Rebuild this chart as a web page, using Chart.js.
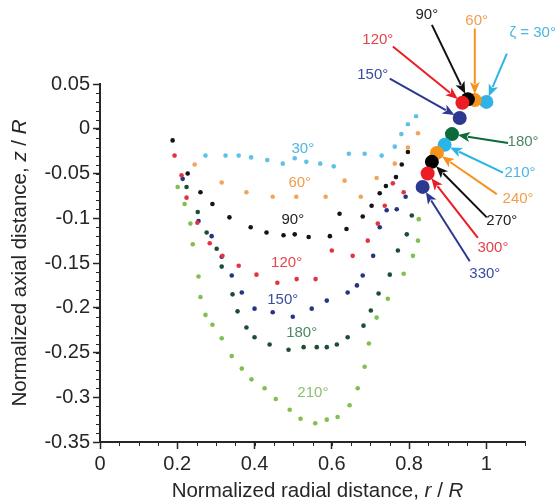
<!DOCTYPE html>
<html>
<head>
<meta charset="utf-8">
<script src="https://cdn.jsdelivr.net/npm/chart.js@4.4.1/dist/chart.umd.min.js"></script>
<style>
  html, body { margin: 0; padding: 0; background: #fff; }
  #wrap { width: 560px; height: 504px; }
</style>
</head>
<body>
<div id="wrap"><canvas id="chart" width="560" height="504"></canvas></div>
<script>
// bubble cross-sections, normalized radial r/R vs axial z/R
const r30 = [0.273, 0.325, 0.359, 0.391, 0.433, 0.473, 0.504, 0.534, 0.570, 0.605, 0.644, 0.685, 0.729, 0.763, 0.780, 0.797, 0.818];
const z30 = [-0.030, -0.030, -0.030, -0.032, -0.035, -0.039, -0.033, -0.037, -0.039, -0.042, -0.028, -0.028, -0.030, -0.020, -0.006, 0.005, 0.014];

const r60 = [0.245, 0.315, 0.379, 0.447, 0.508, 0.584, 0.633, 0.675, 0.716, 0.763, 0.797, 0.823];
const z60 = [-0.040, -0.060, -0.071, -0.076, -0.076, -0.076, -0.058, -0.076, -0.055, -0.039, -0.021, -0.005];

const r90 = [0.188, 0.227, 0.260, 0.291, 0.335, 0.390, 0.431, 0.475, 0.504, 0.540, 0.595, 0.620, 0.638, 0.680, 0.703, 0.724, 0.740, 0.766, 0.781, 0.797];
const z90 = [-0.013, -0.050, -0.071, -0.084, -0.099, -0.110, -0.116, -0.119, -0.118, -0.121, -0.120, -0.095, -0.112, -0.098, -0.086, -0.072, -0.064, -0.054, -0.040, -0.026];

const r120 = [0.193, 0.211, 0.224, 0.252, 0.284, 0.317, 0.359, 0.405, 0.459, 0.509, 0.558, 0.600, 0.654, 0.693, 0.719, 0.737, 0.758, 0.786];
const z120 = [-0.030, -0.052, -0.077, -0.105, -0.128, -0.142, -0.153, -0.163, -0.172, -0.168, -0.168, -0.136, -0.142, -0.125, -0.106, -0.086, -0.061, -0.071];

const r150 = [0.214, 0.255, 0.289, 0.315, 0.341, 0.367, 0.400, 0.447, 0.499, 0.548, 0.587, 0.641, 0.665, 0.680, 0.707, 0.724, 0.742, 0.768, 0.791];
const z150 = [-0.056, -0.103, -0.120, -0.143, -0.164, -0.183, -0.201, -0.205, -0.210, -0.201, -0.192, -0.183, -0.175, -0.164, -0.142, -0.110, -0.091, -0.090, -0.076];

const r180 = [0.224, 0.253, 0.276, 0.302, 0.315, 0.343, 0.356, 0.379, 0.400, 0.439, 0.488, 0.527, 0.561, 0.587, 0.613, 0.641, 0.682, 0.701, 0.721, 0.750, 0.771, 0.794, 0.807];
const z180 = [-0.065, -0.093, -0.116, -0.134, -0.154, -0.185, -0.204, -0.222, -0.233, -0.241, -0.247, -0.244, -0.244, -0.244, -0.241, -0.233, -0.220, -0.203, -0.184, -0.163, -0.136, -0.118, -0.097];

const r210 = [0.201, 0.219, 0.234, 0.240, 0.255, 0.260, 0.273, 0.291, 0.315, 0.341, 0.367, 0.392, 0.426, 0.455, 0.491, 0.519, 0.557, 0.587, 0.615, 0.646, 0.667, 0.685, 0.696, 0.716, 0.745, 0.786, 0.810, 0.823, 0.825];
const z210 = [-0.065, -0.084, -0.106, -0.129, -0.165, -0.188, -0.208, -0.219, -0.234, -0.254, -0.268, -0.280, -0.290, -0.302, -0.314, -0.324, -0.329, -0.325, -0.322, -0.309, -0.290, -0.266, -0.240, -0.211, -0.190, -0.162, -0.142, -0.125, -0.101];

// big markers: contact point for each angle zeta
const markAngles = [30, 60, 90, 120, 150, 180, 210, 240, 270, 300, 330];
const markR = [1.000, 0.970, 0.952, 0.938, 0.931, 0.911, 0.892, 0.872, 0.859, 0.848, 0.835];
const markZ = [0.030, 0.032, 0.033, 0.029, 0.012, -0.006, -0.018, -0.027, -0.037, -0.050, -0.065];

const xTicks = [0, 0.2, 0.4, 0.6, 0.8, 1];
const yTicks = [0.05, 0, -0.05, -0.1, -0.15, -0.2, -0.25, -0.3, -0.35];

const ink = "#262626";
const fontFamily = '"Liberation Sans", Arial, Helvetica, sans-serif';

const dotColors = {30: "#5ec2e8", 60: "#f3a45c", 90: "#141414", 120: "#e2343d", 150: "#283384", 180: "#1c4e33", 210: "#80bf50"};
const labelColors = {30: "#4cb6e3", 60: "#f19d4c", 90: "#222222", 120: "#e6434b", 150: "#3c4da2", 180: "#4d8862", 210: "#88c16b",
  240: "#f19d4c", 270: "#222222", 300: "#e6434b", 330: "#3c4da2"};
const markColors = {30: "#2fb3e6", 60: "#f6921e", 90: "#000000", 120: "#ec1c24", 150: "#2b3990", 180: "#0b6b3a",
  210: "#29b5e8", 240: "#f6921e", 270: "#000000", 300: "#ec1c24", 330: "#2b3990"};

// in-plot series labels (data units)
const seriesLabels = [
  {a: 30, r: 0.525, z: -0.022},
  {a: 60, r: 0.517, z: -0.060},
  {a: 90, r: 0.499, z: -0.102},
  {a: 120, r: 0.483, z: -0.150},
  {a: 150, r: 0.473, z: -0.191},
  {a: 180, r: 0.522, z: -0.228},
  {a: 210, r: 0.551, z: -0.295}
];

// arrow callouts: label position and arrow tail (data units)
const callouts = [
  {a: 30, text: "\u03b6 = 30\u00b0", lr: 1.120, lz: 0.107, tr: 1.053, tz: 0.084},
  {a: 60, text: "60\u00b0", lr: 0.975, lz: 0.121, tr: 0.970, tz: 0.112},
  {a: 90, text: "90\u00b0", lr: 0.846, lz: 0.127, tr: 0.859, tz: 0.116},
  {a: 120, text: "120\u00b0", lr: 0.719, lz: 0.099, tr: 0.758, tz: 0.092},
  {a: 150, text: "150\u00b0", lr: 0.706, lz: 0.060, tr: 0.750, tz: 0.056},
  {a: 180, text: "180\u00b0", lr: 1.095, lz: -0.015, tr: 1.056, tz: -0.016},
  {a: 210, text: "210\u00b0", lr: 1.087, lz: -0.049, tr: 1.043, tz: -0.049},
  {a: 240, text: "240\u00b0", lr: 1.082, lz: -0.078, tr: 1.027, tz: -0.073},
  {a: 270, text: "270\u00b0", lr: 1.040, lz: -0.103, tr: 1.001, tz: -0.099},
  {a: 300, text: "300\u00b0", lr: 1.017, lz: -0.133, tr: 0.978, tz: -0.122},
  {a: 330, text: "330\u00b0", lr: 0.996, lz: -0.162, tr: 0.957, tz: -0.148}
];

const seriesData = {30: [r30, z30], 60: [r60, z60], 90: [r90, z90], 120: [r120, z120], 150: [r150, z150], 180: [r180, z180], 210: [r210, z210]};
const MARK_RADIUS = 7;

function zip(rs, zs) {
  return rs.map((r, i) => ({x: r, y: zs[i]}));
}

const datasets = Object.keys(seriesData).map(a => ({
  label: a + "\u00b0",
  data: zip(seriesData[a][0], seriesData[a][1]),
  backgroundColor: dotColors[a],
  borderWidth: 0,
  pointRadius: 2.3,
  showLine: false
}));

datasets.push({
  label: "contact",
  data: zip(markR, markZ),
  backgroundColor: markAngles.map(a => markColors[a]),
  borderWidth: 0,
  pointRadius: MARK_RADIUS,
  showLine: false,
  clip: false
});

function drawRich(ctx, parts, size) {
  let total = 0;
  parts.forEach(p => {
    ctx.font = (p.it ? "italic " : "") + size + "px " + fontFamily;
    p.w = ctx.measureText(p.t).width;
    total += p.w;
  });
  let x = -total / 2;
  parts.forEach(p => {
    ctx.font = (p.it ? "italic " : "") + size + "px " + fontFamily;
    ctx.fillText(p.t, x, 0);
    x += p.w;
  });
}

const decorations = {
  id: "decorations",
  afterDraw(chart) {
    const {ctx, chartArea: area, scales: {x, y}} = chart;
    ctx.save();

    // minor ticks
    ctx.strokeStyle = ink;
    ctx.lineWidth = 1;
    ctx.beginPath();
    for (let i = 0; i <= 22; i++) {
      const px = Math.round(x.getPixelForValue(i * 0.05)) + 0.5;
      ctx.moveTo(px, area.bottom);
      ctx.lineTo(px, area.bottom + 4);
    }
    for (let i = 0; i <= 40; i++) {
      const py = Math.round(y.getPixelForValue(-0.35 + i * 0.01)) + 0.5;
      ctx.moveTo(area.left, py);
      ctx.lineTo(area.left - 4, py);
    }
    ctx.stroke();

    // series labels
    ctx.textBaseline = "middle";
    ctx.textAlign = "center";
    ctx.font = "15px " + fontFamily;
    seriesLabels.forEach(s => {
      ctx.fillStyle = labelColors[s.a];
      ctx.fillText(s.a + "\u00b0", x.getPixelForValue(s.r), y.getPixelForValue(s.z));
    });

    // arrows + callout text
    callouts.forEach(c => {
      const i = markAngles.indexOf(c.a);
      const color = markColors[c.a] === "#000000" ? "#111111" : markColors[c.a];
      const x0 = x.getPixelForValue(c.tr), y0 = y.getPixelForValue(c.tz);
      const cx = x.getPixelForValue(markR[i]), cy = y.getPixelForValue(markZ[i]);
      const dx = cx - x0, dy = cy - y0;
      const len = Math.hypot(dx, dy);
      const ux = dx / len, uy = dy / len;
      const stop = len - MARK_RADIUS + 1;
      const hx = x0 + ux * stop, hy = y0 + uy * stop;
      const headLen = 12, headW = 5;
      const bx = hx - ux * headLen, by = hy - uy * headLen;

      ctx.strokeStyle = color;
      ctx.fillStyle = color;
      ctx.lineWidth = 2;
      ctx.beginPath();
      ctx.moveTo(x0, y0);
      ctx.lineTo(bx + ux * 2, by + uy * 2);
      ctx.stroke();
      ctx.beginPath();
      ctx.moveTo(hx, hy);
      ctx.lineTo(bx - uy * headW, by + ux * headW);
      ctx.lineTo(bx + ux * 3, by + uy * 3);
      ctx.lineTo(bx + uy * headW, by - ux * headW);
      ctx.closePath();
      ctx.fill();

      ctx.font = "15px " + fontFamily;
      ctx.fillStyle = c.a === 210 ? "#4cb6e3" : labelColors[c.a];
      ctx.fillText(c.text, x.getPixelForValue(c.lr), y.getPixelForValue(c.lz));
    });

    // axis titles with italic variables
    ctx.fillStyle = ink;
    ctx.textAlign = "left";
    ctx.save();
    ctx.translate((area.left + area.right) / 2 + 5, 491);
    drawRich(ctx, [{t: "Normalized radial distance, "}, {t: "r", it: true}, {t: " / "}, {t: "R", it: true}], 20.5);
    ctx.restore();

    ctx.save();
    ctx.translate(20, (area.top + area.bottom) / 2);
    ctx.rotate(-Math.PI / 2);
    drawRich(ctx, [{t: "Normalized axial distance, "}, {t: "z", it: true}, {t: " / "}, {t: "R", it: true}], 20.5);
    ctx.restore();

    ctx.restore();
  }
};

const fmt = v => String(Math.round(v * 100) / 100);

new Chart(document.getElementById("chart"), {
  type: "scatter",
  data: {datasets},
  options: {
    responsive: false,
    devicePixelRatio: 1,
    animation: false,
    layout: {padding: {top: 84, right: 35, bottom: 0, left: 0}},
    plugins: {
      legend: {display: false},
      tooltip: {enabled: false}
    },
    scales: {
      x: {
        type: "linear",
        min: 0,
        max: 1.1,
        afterBuildTicks: s => { s.ticks = xTicks.map(v => ({value: v})); },
        afterFit: s => { s.height = 62; },
        ticks: {color: ink, font: {family: fontFamily, size: 20}, padding: 3, callback: v => fmt(v)},
        grid: {drawOnChartArea: false, drawTicks: true, tickLength: 7, tickWidth: 1.5, tickColor: ink},
        border: {display: true, color: ink, width: 2}
      },
      y: {
        type: "linear",
        min: -0.35,
        max: 0.05,
        afterBuildTicks: s => { s.ticks = yTicks.map(v => ({value: v})); },
        afterFit: s => { s.width = 100; },
        ticks: {color: ink, font: {family: fontFamily, size: 20}, padding: 3, callback: v => fmt(v)},
        grid: {drawOnChartArea: false, drawTicks: true, tickLength: 7, tickWidth: 1.5, tickColor: ink},
        border: {display: true, color: ink, width: 2}
      }
    }
  },
  plugins: [decorations]
});
</script>
</body>
</html>
